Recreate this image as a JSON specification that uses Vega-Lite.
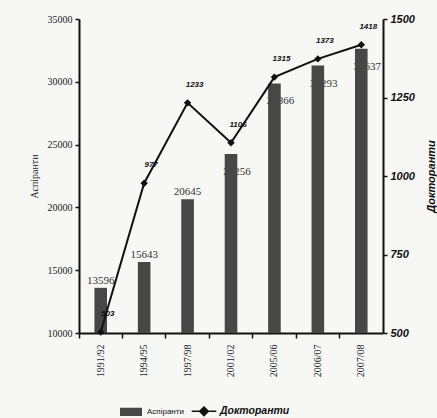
{
  "$schema": "https://vega.github.io/schema/vega-lite/v6.json",
  "width": 304,
  "height": 314,
  "autosize": {"type": "none"},
  "padding": {"left": 79, "top": 19, "right": 54, "bottom": 85},
  "background": "#f7f7f5",
  "config": {
    "view": {"stroke": null},
    "axis": {"grid": false, "domainColor": "#111", "domainWidth": 2, "tickColor": "#111", "tickWidth": 1.5, "labelColor": "#222"}
  },
  "data": {
    "values": [
      {"period": "1991/92", "asp": 13596, "dokt": 503},
      {"period": "1994/95", "asp": 15643, "dokt": 977},
      {"period": "1997/98", "asp": 20645, "dokt": 1233},
      {"period": "2001/02", "asp": 24256, "dokt": 1106},
      {"period": "2005/06", "asp": 29866, "dokt": 1315},
      {"period": "2006/07", "asp": 31293, "dokt": 1373},
      {"period": "2007/08", "asp": 32637, "dokt": 1418}
    ]
  },
  "encoding": {
    "x": {
      "field": "period",
      "type": "ordinal",
      "sort": null,
      "scale": {"paddingInner": 0, "paddingOuter": 0},
      "axis": {
        "title": null,
        "labelAngle": 270,
        "labelFont": "Liberation Serif",
        "labelFontSize": 10,
        "labelPadding": 6,
        "bandPosition": 0,
        "tickSize": 5,
        "domainWidth": 2
      }
    }
  },
  "layer": [
    {
      "transform": [{"filter": "datum.asp < 22000"}],
      "mark": {"type": "text", "font": "Liberation Serif", "fontSize": 11, "color": "#333", "baseline": "bottom", "dy": -2},
      "encoding": {
        "y": {"field": "asp", "type": "quantitative", "scale": {"domain": [10000, 35000], "zero": false}, "axis": null},
        "text": {"field": "asp", "type": "quantitative", "format": "d"}
      }
    },
    {
      "transform": [{"filter": "datum.asp >= 22000"}],
      "mark": {"type": "text", "font": "Liberation Serif", "fontSize": 11, "color": "#333", "baseline": "middle", "dx": 6, "dy": 18},
      "encoding": {
        "y": {"field": "asp", "type": "quantitative", "scale": {"domain": [10000, 35000], "zero": false}, "axis": null},
        "text": {"field": "asp", "type": "quantitative", "format": "d"}
      }
    },
    {
      "mark": {"type": "bar", "width": {"band": 0.29}},
      "encoding": {
        "y": {
          "field": "asp",
          "type": "quantitative",
          "scale": {"domain": [10000, 35000], "zero": false},
          "axis": {
            "title": "Аспіранти",
            "titleFont": "Liberation Serif",
            "titleFontSize": 10,
            "titleFontWeight": "normal",
            "titleColor": "#222",
            "titlePadding": 8,
            "values": [10000, 15000, 20000, 25000, 30000, 35000],
            "format": "d",
            "labelFont": "Liberation Serif",
            "labelFontSize": 10,
            "labelPadding": 3,
            "tickSize": 4
          }
        },
        "y2": {"datum": 10000},
        "color": {
          "datum": "Аспіранти",
          "type": "nominal",
          "scale": {"domain": ["Аспіранти", "Докторанти"], "range": ["#474747", "#111111"]},
          "legend": {
            "title": null,
            "orient": "none",
            "legendX": 41,
            "legendY": 381,
            "direction": "horizontal",
            "symbolSize": 420,
            "columnPadding": 4,
            "labelOffset": 5,
            "labelFont": "Liberation Sans",
            "labelColor": "#111",
            "encode": {
              "symbols": {
                "update": {
                  "shape": {"signal": "datum.value === 'Аспіранти' ? 'M-1,-0.32H1V0.32H-1Z' : 'M-1.2,0H1.2M0,-0.42L0.42,0L0,0.42L-0.42,0Z'"},
                  "fill": {"signal": "datum.value === 'Аспіранти' ? '#474747' : '#111'"},
                  "stroke": {"signal": "datum.value === 'Аспіранти' ? 'transparent' : '#111'"},
                  "strokeWidth": {"value": 1.5},
                  "opacity": {"value": 1}
                }
              },
              "labels": {
                "update": {
                  "fontStyle": {"signal": "datum.value === 'Аспіранти' ? 'normal' : 'italic'"},
                  "fontWeight": {"signal": "datum.value === 'Аспіранти' ? 'normal' : 'bold'"},
                  "fontSize": {"signal": "datum.value === 'Аспіранти' ? 8 : 10.5"}
                }
              }
            }
          }
        }
      }
    },
    {
      "mark": {"type": "line", "color": "#111", "strokeWidth": 2, "point": {"shape": "diamond", "filled": true, "size": 55, "color": "#111"}},
      "encoding": {
        "y": {
          "field": "dokt",
          "type": "quantitative",
          "scale": {"domain": [500, 1500], "zero": false},
          "axis": {
            "orient": "right",
            "title": "Докторанти",
            "titleFont": "Liberation Sans",
            "titleFontSize": 11,
            "titleFontWeight": "bold",
            "titleFontStyle": "italic",
            "titleColor": "#111",
            "titleAngle": 270,
            "titlePadding": 22,
            "values": [500, 750, 1000, 1250, 1500],
            "format": "d",
            "labelFont": "Liberation Sans",
            "labelFontSize": 11,
            "labelFontWeight": "bold",
            "labelFontStyle": "italic",
            "labelColor": "#111",
            "labelPadding": 3,
            "tickSize": 4
          }
        },
        "color": {"datum": "Докторанти", "type": "nominal"}
      }
    },
    {
      "mark": {"type": "text", "font": "Liberation Sans", "fontSize": 8, "fontWeight": "bold", "fontStyle": "italic", "color": "#111", "dx": 7, "dy": -18},
      "encoding": {
        "y": {"field": "dokt", "type": "quantitative", "scale": {"domain": [500, 1500], "zero": false}, "axis": null},
        "text": {"field": "dokt", "type": "quantitative", "format": "d"}
      }
    }
  ],
  "resolve": {"scale": {"y": "independent"}}
}
